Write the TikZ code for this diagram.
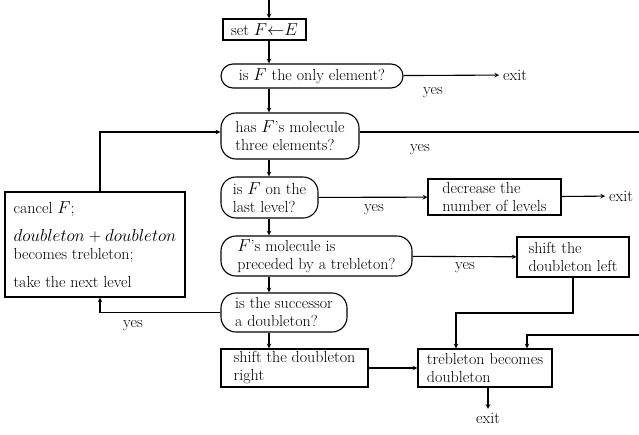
\documentclass[tikz,border=0pt]{standalone}
\begin{document}
\begin{tikzpicture}[x=1pt, y=-1pt, >=stealth, line width=1.1pt,
  every node/.style={font=\fontsize{16}{18}\selectfont},
  box/.style={draw, rectangle, align=left, inner sep=0pt},
  test/.style={draw, rectangle, rounded corners=15pt, align=left, inner sep=0pt}]
\useasboundingbox (0,0) rectangle (639,434);
\clip (0,0) rectangle (639,434);
\coordinate (spine) at (269,0);
\coordinate (loop) at (100,0);
\coordinate (far) at (650,335);
\coordinate (trebin) at (527,0);
\coordinate (bend) at (456,313);
\node[box, minimum width=83, minimum height=21] (set) at (264.5,29.5) {set $F{\leftarrow}E$};
\node[test, rounded corners=12pt, minimum width=182, minimum height=24] (only) at (312,76) {is $F$ the only element?};
\node[test, minimum width=138, minimum height=46] (three) at (290,136) {has $F$'s molecule\\three elements?};
\node[test, minimum width=97, minimum height=41] (last) at (269.5,197.5) {is $F$ on the\\last level?};
\node[test, minimum width=191, minimum height=40] (prec) at (316.5,256) {$F$'s molecule is\\preceded by a trebleton?};
\node[test, minimum width=126, minimum height=39] (succ) at (284,312.5) {is the successor\\a doubleton?};
\node[box, minimum width=133, minimum height=36] (decr) at (494.5,197) {decrease the\\number of levels};
\node[box, minimum width=112, minimum height=40] (shiftl) at (573,257) {shift the\\doubleton left};
\node[box, minimum width=147, minimum height=38] (shiftr) at (294.5,368) {shift the doubleton\\right};
\node[box, minimum width=134, minimum height=38] (treb) at (485,368) {trebleton becomes\\doubleton};
\node[box, minimum width=180, minimum height=105] (cancel) at (95,244.5) {cancel $F$;\\[10pt] $doubleton+doubleton$\\becomes trebleton;\\[10pt] take the next level};
\node (exitA) at (515,75) {exit};
\node (exitB) at (621,196) {exit};
\node (exitC) at (488,418) {exit};
\node (yesA) at (433,93) {yes};
\node (yesB) at (420,150) {yes};
\node (yesC) at (374,210) {yes};
\node (yesD) at (465,268) {yes};
\node (yesE) at (133,326) {yes};
\draw[->] (spine) -- (spine |- set.north);
\draw[->] (spine |- set.south) -- (spine |- only.north);
\draw[->] (spine |- only.south) -- (spine |- three.north);
\draw[->] (spine |- three.south) -- (spine |- last.north);
\draw[->] (spine |- last.south) -- (spine |- prec.north);
\draw[->] (spine |- prec.south) -- (spine |- succ.north);
\draw[->] (spine |- succ.south) -- (spine |- shiftr.north);
\draw[->] (only) -- (exitA);
\draw[->] ([yshift=4pt]three.east) -| (far) -| (trebin |- treb.north);
\draw[->] (last) -- (decr);
\draw[->] (decr) -- (exitB);
\draw[->] (prec) -- (shiftl);
\draw[->] (shiftl.south) |- (bend) -- (bend |- treb.north);
\draw[->] (succ.west) -| (loop |- cancel.south);
\draw[->] (loop |- cancel.north) |- ([yshift=4pt]three.west);
\draw[->] (shiftr) -- (treb);
\draw[->] (exitC |- treb.south) -- (exitC.north);
\end{tikzpicture}
\end{document}
